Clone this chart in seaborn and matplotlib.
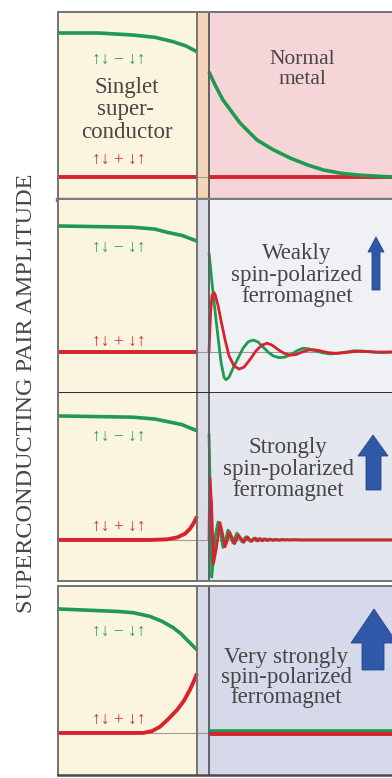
import numpy as np
import matplotlib
matplotlib.use("Agg")
import matplotlib.pyplot as plt
import matplotlib.patches as mpatches
import seaborn as sns

# ---- curve data (distance from interface in arb. units, pair amplitude) ----
# Panel 1: singlet superconductor / normal metal
p1_sc_x = [-15.1, -11.0, -7.6, -5.4, -3.6, -2.3, -1.2]
p1_sc_singlet = [1.0, 1.0, 0.986, 0.97, 0.94, 0.91, 0.87]
p1_sc_triplet_x = [-15.1, -1.2]
p1_sc_triplet = [0.0, 0.0]
p1_nm_x = [0.0, 0.6, 1.4, 3.1, 4.8, 6.4, 8.1, 9.8, 11.4, 13.1, 14.8, 16.6, 18.3]
p1_nm_singlet = [0.73, 0.64, 0.535, 0.375, 0.257, 0.19, 0.132, 0.085, 0.049,
                 0.027, 0.014, 0.006, 0.0]
p1_nm_triplet_x = [0.0, 18.3]
p1_nm_triplet = [0.0, 0.0]

# Panel 2: weakly spin-polarized ferromagnet
p2_sc_x = [-15.1, -7.6, -5.4, -4.2, -2.7, -1.2]
p2_sc_singlet = [1.0, 0.99, 0.975, 0.95, 0.925, 0.88]
p2_sc_triplet_x = [-15.1, -1.2]
p2_sc_triplet = [0.0, 0.0]
p2_fm_singlet_x = [0.0, 0.3, 0.6, 0.9, 1.2, 1.5, 1.7, 2.0, 2.4, 2.9, 3.4, 3.9,
                   4.4, 4.9, 5.4, 5.9, 6.4, 7.0, 7.6, 8.2, 8.8, 9.4, 10.0, 10.6,
                   11.3, 12.1, 12.9, 13.7, 14.5, 15.3, 16.3, 17.3, 18.3]
p2_fm_singlet = [0.79, 0.55, 0.33, 0.12, -0.08, -0.2, -0.22, -0.2, -0.13, -0.05,
                 0.03, 0.08, 0.095, 0.08, 0.04, 0.0, -0.03, -0.045, -0.04, -0.02,
                 0.01, 0.03, 0.025, 0.01, -0.005, -0.015, -0.01, 0.0, 0.01, 0.008,
                 0.0, -0.005, 0.0]
p2_fm_triplet_x = [0.0, 0.15, 0.3, 0.5, 0.6, 0.9, 1.2, 1.6, 2.0, 2.5, 3.0, 3.5,
                   4.1, 4.7, 5.3, 5.8, 6.3, 6.9, 7.5, 8.1, 8.7, 9.3, 9.9, 10.5,
                   11.1, 11.9, 12.7, 13.6, 14.6, 15.6, 16.9, 18.3]
p2_fm_triplet = [0.0, 0.3, 0.45, 0.47, 0.46, 0.37, 0.25, 0.1, -0.03, -0.11,
                 -0.135, -0.12, -0.06, 0.01, 0.055, 0.07, 0.055, 0.02, -0.01,
                 -0.025, -0.02, 0.0, 0.015, 0.018, 0.01, -0.005, -0.01, -0.005,
                 0.005, 0.005, 0.0, 0.0]

# Panel 3: strongly spin-polarized ferromagnet
p3_sc_x = [-15.1, -7.6, -5.4, -4.2, -2.7, -1.2]
p3_sc_singlet = [1.0, 0.99, 0.975, 0.955, 0.93, 0.88]
p3_sc_triplet_x = [-15.1, -5.9, -4.2, -3.2, -2.4, -1.9, -1.5, -1.2]
p3_sc_triplet = [0.0, 0.0, 0.005, 0.02, 0.05, 0.09, 0.14, 0.19]
p3_fm_singlet_x = [0.0, 0.15, 0.27, 0.4, 0.6, 0.9, 1.15, 1.4, 1.65, 1.9, 2.15,
                   2.4, 2.6, 2.8, 3.05, 3.3, 3.5, 3.7, 3.9, 4.1, 4.3, 4.5, 4.75,
                   5.0, 5.25, 5.5, 5.75, 6.0, 6.3, 6.6, 6.9, 7.2, 7.5, 7.8, 8.1,
                   8.6, 9.1, 18.3]
p3_fm_singlet = [0.86, 0.3, -0.3, -0.2, 0.02, 0.145, 0.05, -0.06, 0.0, 0.08,
                 0.02, -0.025, 0.02, 0.055, 0.02, -0.015, 0.01, 0.025, 0.005,
                 -0.01, 0.0, 0.015, -0.008, 0.012, -0.006, 0.01, -0.005, 0.008,
                 -0.004, 0.006, -0.003, 0.005, -0.002, 0.004, 0.0, 0.003, 0.0,
                 0.0]
p3_fm_triplet_x = [0.0, 0.08, 0.25, 0.45, 0.7, 1.1, 1.35, 1.6, 1.85, 2.05, 2.3,
                   2.55, 2.75, 2.95, 3.2, 3.45, 3.65, 3.85, 4.05, 4.25, 4.45,
                   4.65, 4.9, 5.15, 5.4, 5.65, 5.9, 6.2, 6.5, 6.8, 7.1, 7.4, 7.7,
                   8.5, 18.3]
p3_fm_triplet = [0.0, 0.5, 0.3, -0.19, -0.08, 0.14, 0.05, -0.055, 0.0, 0.065,
                 0.02, -0.03, 0.0, 0.04, 0.01, -0.02, 0.0, 0.025, 0.005, -0.012,
                 0.0, 0.015, -0.008, 0.01, -0.006, 0.008, -0.005, 0.006, -0.004,
                 0.004, -0.003, 0.003, 0.0, 0.0, 0.0]

# Panel 4: very strongly spin-polarized ferromagnet
p4_sc_x = [-15.1, -9.2, -7.6, -5.9, -4.7, -3.6, -2.8, -2.2, -1.7, -1.2]
p4_sc_singlet = [1.0, 0.98, 0.97, 0.94, 0.9, 0.85, 0.8, 0.75, 0.71, 0.67]
p4_sc_triplet_x = [-15.1, -6.6, -5.7, -4.9, -4.1, -3.2, -2.5, -1.9, -1.5, -1.2]
p4_sc_triplet = [0.0, 0.0, 0.015, 0.05, 0.11, 0.185, 0.26, 0.35, 0.42, 0.48]
p4_fm_x = [0.0, 18.3]
p4_fm_singlet = [0.015, 0.015]
p4_fm_triplet = [-0.01, -0.01]

ferro_labels = [["Weakly", "spin-polarized", "ferromagnet"],
                ["Strongly", "spin-polarized", "ferromagnet"],
                ["Very strongly", "spin-polarized", "ferromagnet"]]
singlet_label = "↑↓ − ↓↑"
triplet_label = "↑↓ + ↓↑"
ylabel = "SUPERCONDUCTING PAIR AMPLITUDE"

# ---- styling ----
sns.set_theme(style="white")
plt.rcParams["font.family"] = ["Liberation Serif", "DejaVu Serif", "DejaVu Sans"]

GREEN = "#1f9a50"
RED = "#d8222e"
GREEN_TXT = "#2a9a5e"
RED_TXT = "#c92d3a"
TEXT = "#474545"
EDGE = "#737373"
BLUE = "#2f58a8"
CREAM = "#fbf5df"

W, H = 392, 778
fig = plt.figure(figsize=(W / 100, H / 100), dpi=100)
fig.patch.set_facecolor("white")

XMIN, XMAX = -15.1, 18.3
X_SC_EDGE = -1.2

# (top px, bottom px, ylim, strip colour, metal colour)
panels = [
    (12, 200, (-0.16, 1.146), "#f4d6b6", "#f6d5d8"),
    (200, 393, (-0.325, 1.206), "#dcdde6", "#eff1f5"),
    (393, 581, (-0.331, 1.185), "#dcdde6", "#e5e7ee"),
    (586, 775, (-0.339, 1.185), "#d6d9e6", "#d6d9e9"),
]

curves = [
    [(p1_sc_x, p1_sc_singlet, GREEN), (p1_sc_triplet_x, p1_sc_triplet, RED),
     (p1_nm_triplet_x, p1_nm_triplet, RED), (p1_nm_x, p1_nm_singlet, GREEN)],
    [(p2_sc_x, p2_sc_singlet, GREEN), (p2_sc_triplet_x, p2_sc_triplet, RED),
     (p2_fm_singlet_x, p2_fm_singlet, GREEN), (p2_fm_triplet_x, p2_fm_triplet, RED)],
    [(p3_sc_x, p3_sc_singlet, GREEN), (p3_sc_triplet_x, p3_sc_triplet, RED),
     (p3_fm_singlet_x, p3_fm_singlet, GREEN), (p3_fm_triplet_x, p3_fm_triplet, RED)],
    [(p4_sc_x, p4_sc_singlet, GREEN), (p4_sc_triplet_x, p4_sc_triplet, RED),
     (p4_fm_x, p4_fm_singlet, GREEN), (p4_fm_x, p4_fm_triplet, RED)],
]

axes = []
for i, (top, bot, ylim, strip_c, metal_c) in enumerate(panels):
    ax = fig.add_axes([58 / W, 1 - bot / H, (W - 58) / W, (bot - top) / H])
    ax.set_xlim(XMIN, XMAX)
    ax.set_ylim(*ylim)
    ax.axvspan(XMIN, X_SC_EDGE, color=CREAM, zorder=0, lw=0)
    ax.axvspan(X_SC_EDGE, 0, color=strip_c, zorder=0, lw=0)
    ax.axvspan(0, XMAX, color=metal_c, zorder=0, lw=0)
    ax.axhline(0, color="#9c9c90", lw=0.8, zorder=1)
    ax.axvline(X_SC_EDGE, color=EDGE, lw=1.4, zorder=4)
    ax.axvline(0, color="#5f5f66", lw=1.4, zorder=4)
    for xs, ys, c in curves[i]:
        lw = 2.8 if c == RED else 2.6
        if xs[0] >= 0 and i in (1, 2):
            lw = 2.0
        sns.lineplot(x=xs, y=ys, ax=ax, color=c, lw=lw, zorder=3,
                     solid_capstyle="butt", sort=False)
    ax.set_xticks([])
    ax.set_yticks([])
    ax.set_xlabel("")
    ax.set_ylabel("")
    for s in ax.spines.values():
        s.set_color(EDGE)
        s.set_linewidth(1.4)
        s.set_zorder(5)
    ax.spines["right"].set_visible(False)
    axes.append(ax)

axes[0].spines["bottom"].set_linewidth(3.2)
axes[0].spines["bottom"].set_color("#7d7d7d")
axes[1].spines["top"].set_visible(False)
axes[1].spines["bottom"].set_color("#2a2a2a")
axes[2].spines["top"].set_visible(False)
axes[3].spines["bottom"].set_color("#4a4a4a")
axes[3].spines["bottom"].set_linewidth(1.8)


def ftext(px, py, s, **kw):
    fig.text(px / W, 1 - py / H, s, ha="center", va="center", **kw)


# spin-pair labels in the superconductor
label_rows = [(60, 160), (248, 342), (437, 527), (632, 720)]
for gy, ry in label_rows:
    ftext(119, gy, singlet_label, color=GREEN_TXT, fontsize=12.5)
    ftext(119, ry, triplet_label, color=RED_TXT, fontsize=12.5)

ftext(127, 87, "Singlet", color=TEXT, fontsize=16.5)
ftext(125, 110, "super-", color=TEXT, fontsize=16.5)
ftext(127, 133, "conductor", color=TEXT, fontsize=16.5)

ftext(302, 60, "Normal", color=TEXT, fontsize=15.5)
ftext(302, 80, "metal", color=TEXT, fontsize=15.5)

ferro_pos = [(297, [253, 275, 297]), (288, [448, 470, 491]), (286, [658, 678, 698])]
for (cx, ys), lines in zip(ferro_pos, ferro_labels):
    for y, s in zip(ys, lines):
        ftext(cx, y, s, color=TEXT, fontsize=16.5)

ftext(27, 393, ylabel, color=TEXT, fontsize=17.5, rotation=90)


# magnetisation arrows
def up_arrow(tip_x, tip_y, head_y, head_l, head_r, shaft_l, shaft_r, base_y):
    pts = [(tip_x, tip_y), (head_r, head_y), (shaft_r, head_y), (shaft_r, base_y),
           (shaft_l, base_y), (shaft_l, head_y), (head_l, head_y)]
    poly = mpatches.Polygon([(x / W, 1 - y / H) for x, y in pts], closed=True,
                            transform=fig.transFigure, facecolor=BLUE,
                            edgecolor="#24468c", lw=0.6, zorder=10)
    fig.patches.append(poly)


up_arrow(376, 237, 252, 368, 384, 372, 380, 290)
up_arrow(373, 435, 456, 358, 388, 366, 381, 490)
up_arrow(374, 609, 643, 351, 397, 362, 384, 670)

fig.savefig("out.png", dpi=100)
